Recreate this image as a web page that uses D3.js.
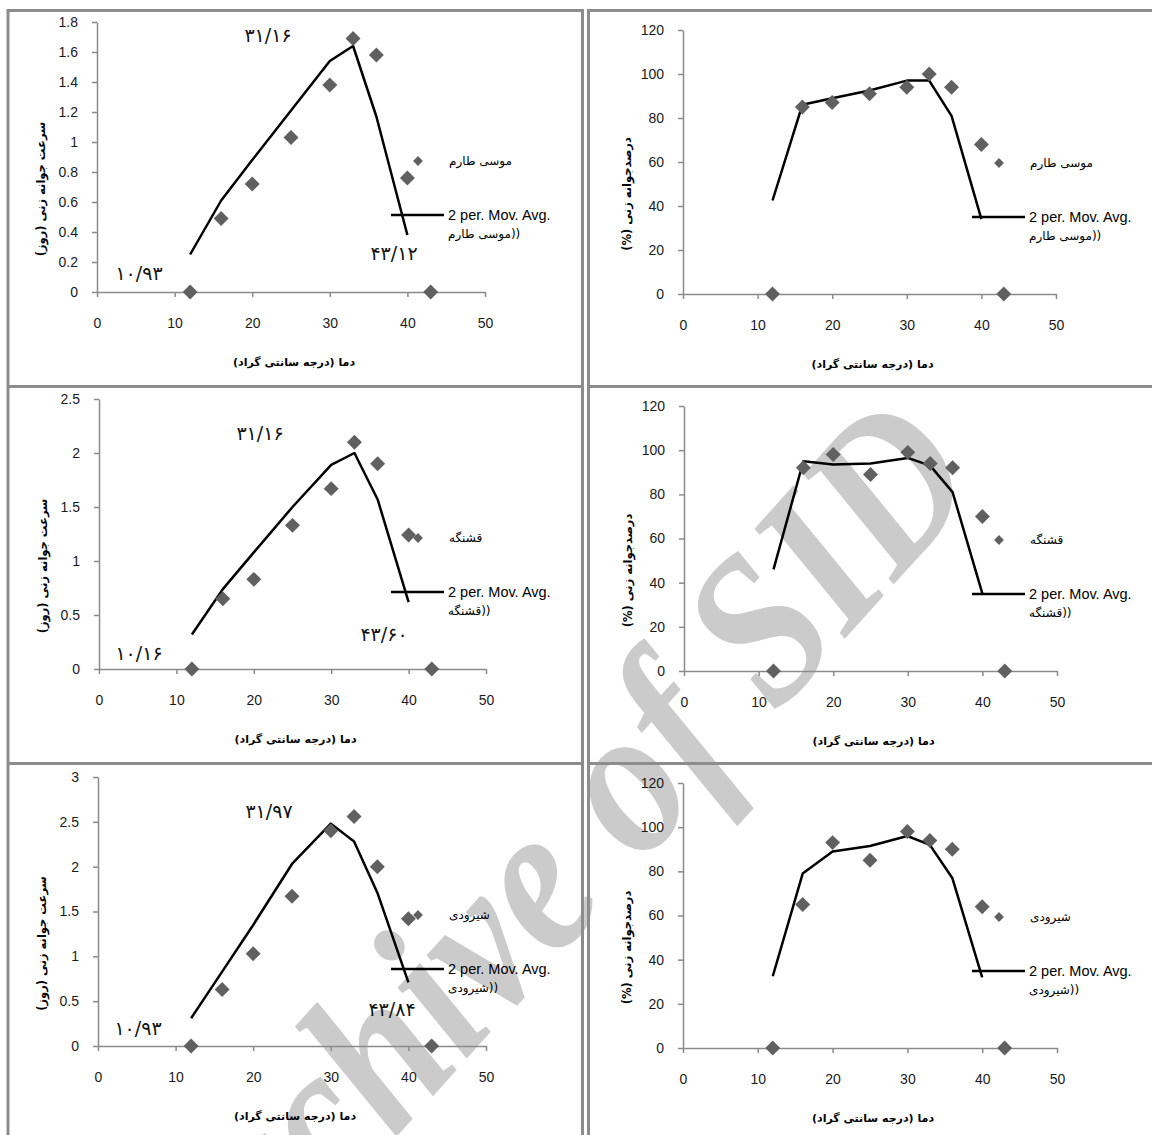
<!DOCTYPE html>
<html>
<head>
<meta charset="utf-8">
<script src="https://cdn.jsdelivr.net/npm/d3@7"></script>
<style>
body { margin: 0; background: #fff; }
svg { display: block; }
.tick text { font-family: "Liberation Sans", Arial, sans-serif; font-size: 14px; fill: #1a1a1a; }
.tick line, .domain { stroke: #8a8a8a; stroke-width: 1.5; }
</style>
</head>
<body>
<div id="chart"></div>
<script>
// temperatures (x) and the points the moving average is drawn at
var temps = [12, 16, 20, 25, 30, 33, 36, 40, 43];
var avgTemps = [12, 16, 20, 25, 30, 33, 36, 40];
var cultivars = ["موسی طارم", "قشنگه", "شیرودی"];

// germination rate
var rateMousa = [0, 0.49, 0.72, 1.03, 1.38, 1.69, 1.58, 0.76, 0];
var rateGhashangeh = [0, 0.65, 0.83, 1.33, 1.67, 2.1, 1.9, 1.24, 0];
var rateShirudi = [0, 0.63, 1.03, 1.67, 2.4, 2.56, 2.0, 1.42, 0];
// 2 per. moving average lines
var rateMousaAvg = [0.25, 0.61, 0.88, 1.21, 1.54, 1.64, 1.17, 0.38];
var rateGhashangehAvg = [0.32, 0.74, 1.08, 1.5, 1.89, 2.0, 1.57, 0.62];
var rateShirudiAvg = [0.31, 0.83, 1.35, 2.03, 2.48, 2.28, 1.71, 0.71];

// germination percent
var pctMousa = [0, 85, 87, 91, 94, 100, 94, 68, 0];
var pctGhashangeh = [0, 92, 98, 89, 99, 94, 92, 70, 0];
var pctShirudi = [0, 65, 93, 85, 98, 94, 90, 64, 0];
var pctMousaAvg = [42.5, 86, 89, 92.5, 97, 97, 81, 34];
var pctGhashangehAvg = [46, 95, 93.5, 94, 96.5, 93, 81, 35];
var pctShirudiAvg = [32.5, 79, 89, 91.5, 96, 92, 77, 32];

// tick labels
var xTicks = [0, 10, 20, 30, 40, 50];
var rateTicksMousa = [0, 0.2, 0.4, 0.6, 0.8, 1, 1.2, 1.4, 1.6, 1.8];
var rateTicksGhashangeh = [0, 0.5, 1, 1.5, 2, 2.5];
var rateTicksShirudi = [0, 0.5, 1, 1.5, 2, 2.5, 3];
var pctTicks = [0, 20, 40, 60, 80, 100, 120];

var rateTitle = "سرعت جوانه زنی (روز)";
var pctTitle = "درصدجوانه زنی (%)";
var tempTitle = "دما (درجه سانتی گراد)";
var avgLabel = "2 per. Mov. Avg.";
// optimum, maximum and base temperatures written on the rate plots
var cardinalTemps = [
  ["۳۱/۱۶", "۴۳/۱۲", "۱۰/۹۳"],
  ["۳۱/۱۶", "۴۳/۶۰", "۱۰/۱۶"],
  ["۳۱/۹۷", "۴۳/۸۴", "۱۰/۹۳"]
];

var svgWidth = 1152;
var svgHeight = 1135;

var svg = d3.select("#chart")
  .append("svg")
  .attr("width", svgWidth)
  .attr("height", svgHeight);

// watermark behind everything
svg.append("text")
  .attr("transform", "translate(985, 483) rotate(-48) scale(0.87, 1)")
  .attr("text-anchor", "end")
  .style("font-family", "'Liberation Serif', 'DejaVu Serif', serif")
  .style("font-style", "italic")
  .style("font-weight", "bold")
  .style("font-size", "215px")
  .style("fill", "#cbcbcb")
  .text("Archive of SID");

// panel frames
var frame = svg.append("g")
  .attr("stroke", "#8c8c8c")
  .attr("stroke-width", 3)
  .attr("fill", "none");
[[8, 10.5, 582.5, 10.5], [8, 386.5, 582.5, 386.5], [8, 763.5, 582.5, 763.5],
 [588.5, 10.5, 1152, 10.5], [588.5, 386.5, 1152, 386.5], [588.5, 763.5, 1152, 763.5],
 [8, 9, 8, 1135], [582.5, 9, 582.5, 1135], [588.5, 9, 588.5, 1135]].forEach(function(l) {
  frame.append("line")
    .attr("x1", l[0]).attr("y1", l[1])
    .attr("x2", l[2]).attr("y2", l[3]);
});

var panels = [
  {values: rateMousa, avg: rateMousaAvg, ticks: rateTicksMousa, name: cultivars[0], title: rateTitle,
   x0: 97, x1: 485, y0: 292, y1: 22, legX: 391, notes: cardinalTemps[0],
   notePos: [[268, 35], [394, 253], [139, 273]]},
  {values: pctMousa, avg: pctMousaAvg, ticks: pctTicks, name: cultivars[0], title: pctTitle,
   x0: 683, x1: 1056, y0: 294, y1: 30, legX: 972},
  {values: rateGhashangeh, avg: rateGhashangehAvg, ticks: rateTicksGhashangeh, name: cultivars[1], title: rateTitle,
   x0: 99, x1: 486, y0: 669, y1: 399, legX: 391, notes: cardinalTemps[1],
   notePos: [[260, 433], [384, 634], [139, 653]]},
  {values: pctGhashangeh, avg: pctGhashangehAvg, ticks: pctTicks, name: cultivars[1], title: pctTitle,
   x0: 684, x1: 1057, y0: 671, y1: 406, legX: 972},
  {values: rateShirudi, avg: rateShirudiAvg, ticks: rateTicksShirudi, name: cultivars[2], title: rateTitle,
   x0: 98, x1: 486, y0: 1046, y1: 777, legX: 391, notes: cardinalTemps[2],
   notePos: [[269, 811], [392, 1009], [138, 1028]]},
  {values: pctShirudi, avg: pctShirudiAvg, ticks: pctTicks, name: cultivars[2], title: pctTitle,
   x0: 683, x1: 1057, y0: 1048, y1: 783, legX: 972}
];

var arabicFont = "'DejaVu Sans', sans-serif";
var latinFont = "'Liberation Sans', Arial, sans-serif";

panels.forEach(function(p) {
  var g = svg.append("g");

  var x = d3.scaleLinear()
    .domain([0, 50])
    .range([p.x0, p.x1]);
  var y = d3.scaleLinear()
    .domain([0, d3.max(p.ticks)])
    .range([p.y0, p.y1]);

  g.append("g")
    .attr("transform", `translate(${p.x0}, 0)`)
    .call(d3.axisLeft(y).tickValues(p.ticks).tickSize(5).tickSizeOuter(0).tickPadding(14)
      .tickFormat(d3.format("~g")));

  g.append("g")
    .attr("transform", `translate(0, ${p.y0})`)
    .call(d3.axisBottom(x).tickValues(xTicks).tickSize(5).tickSizeOuter(0).tickPadding(21));

  // moving average line
  var line = d3.line()
    .x(function(d, i) { return x(avgTemps[i]); })
    .y(function(d) { return y(d); });

  g.append("path")
    .datum(p.avg)
    .attr("d", line)
    .attr("fill", "none")
    .attr("stroke", "#000")
    .attr("stroke-width", 2.5)
    .attr("stroke-linejoin", "round");

  // diamonds
  var diamond = d3.symbol().type(d3.symbolSquare).size(112);
  g.selectAll(".pt")
    .data(p.values)
    .enter().append("path")
      .attr("class", "pt")
      .attr("d", diamond)
      .attr("transform", function(d, i) {
        return `translate(${x(temps[i])}, ${y(d)}) rotate(45)`;
      })
      .attr("fill", "#606060");

  // legend
  var ly = p.y0 - 77;
  g.append("path")
    .attr("d", d3.symbol().type(d3.symbolSquare).size(48))
    .attr("transform", `translate(${p.legX + 27}, ${p.y0 - 131}) rotate(45)`)
    .attr("fill", "#606060");
  g.append("text")
    .attr("x", p.legX + 58)
    .attr("y", p.y0 - 131)
    .attr("dy", "0.35em")
    .style("font-family", arabicFont)
    .style("font-size", "12px")
    .text(p.name);
  g.append("line")
    .attr("x1", p.legX).attr("x2", p.legX + 53)
    .attr("y1", ly).attr("y2", ly)
    .attr("stroke", "#000")
    .attr("stroke-width", 2.5);
  g.append("text")
    .attr("x", p.legX + 57)
    .attr("y", ly)
    .attr("dy", "0.35em")
    .style("font-family", latinFont)
    .style("font-size", "14.5px")
    .text(avgLabel);
  g.append("text")
    .attr("x", p.legX + 57)
    .attr("y", ly + 19)
    .attr("dy", "0.35em")
    .style("font-family", arabicFont)
    .style("font-size", "12px")
    .text(p.name + "))");

  // axis titles
  g.append("text")
    .attr("x", (p.x0 + p.x1) / 2 + 3)
    .attr("y", p.y0 + 70)
    .attr("dy", "0.35em")
    .attr("text-anchor", "middle")
    .attr("direction", "rtl")
    .style("font-family", arabicFont)
    .style("font-weight", "bold")
    .style("font-size", "11px")
    .text(tempTitle);

  g.append("text")
    .attr("transform", `translate(${p.x0 - 56}, ${(p.y0 + p.y1) / 2 + 32}) rotate(-90)`)
    .attr("dy", "0.35em")
    .attr("text-anchor", "middle")
    .attr("direction", "rtl")
    .style("font-family", arabicFont)
    .style("font-weight", "bold")
    .style("font-size", "11.5px")
    .text(p.title);

  // cardinal temperatures
  if (p.notes) {
    p.notes.forEach(function(t, i) {
      g.append("text")
        .attr("x", p.notePos[i][0])
        .attr("y", p.notePos[i][1])
        .attr("dy", "0.35em")
        .attr("text-anchor", "middle")
        .style("font-family", "'DejaVu Sans', serif")
        .style("font-size", "19px")
        .style("letter-spacing", "2px")
        .style("fill", "#111")
        .text(t);
    });
  }
});
</script>
</body>
</html>
